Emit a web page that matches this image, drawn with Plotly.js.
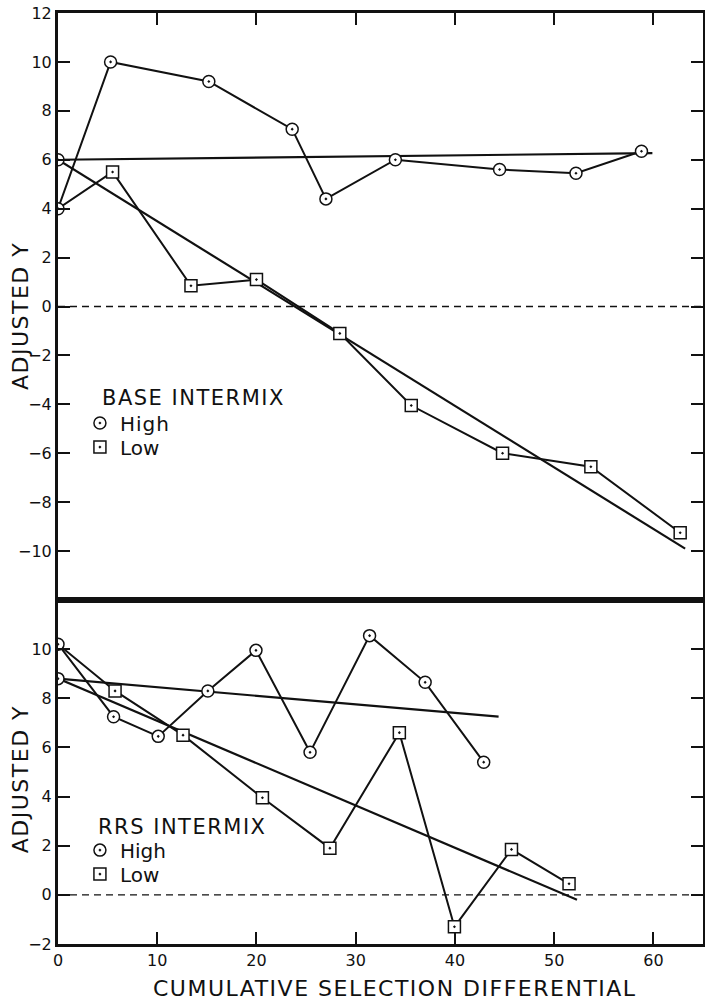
<!DOCTYPE html>
<html>
<head>
<meta charset="utf-8">
<script src="https://cdn.plot.ly/plotly-3.0.1.min.js"></script>
<style>
  html, body { margin: 0; padding: 0; background: #fff; }
  #chart { width: 705px; height: 1003px; }
  .annotation-text { letter-spacing: 1.5px; }
  .legendtext { letter-spacing: 1px; }
</style>
</head>
<body>
<div id="chart"></div>
<script>
// ---------- DATA ----------
// Top panel: BASE INTERMIX
const baseHighX = [0, 5.3, 15.2, 23.6, 27.0, 34.0, 44.5, 52.2, 58.8];
const baseHighY = [4.0, 10.0, 9.2, 7.25, 4.4, 6.0, 5.6, 5.45, 6.35];
const baseLowX  = [0, 5.5, 13.4, 20.0, 28.4, 35.6, 44.8, 53.7, 62.7];
const baseLowY  = [4.0, 5.5, 0.85, 1.1, -1.1, -4.05, -6.0, -6.55, -9.25];
const baseFitHighX = [0, 59.9];
const baseFitHighY = [6.0, 6.27];
const baseFitLowX  = [0, 63.2];
const baseFitLowY  = [6.0, -9.9];
const baseInterceptX = [0];
const baseInterceptY = [6.0];

// Bottom panel: RRS INTERMIX
const rrsHighX = [0, 5.6, 10.1, 15.1, 19.95, 25.4, 31.4, 37.0, 42.9];
const rrsHighY = [10.2, 7.25, 6.45, 8.3, 9.95, 5.8, 10.55, 8.65, 5.4];
const rrsLowX  = [0, 5.75, 12.6, 20.6, 27.4, 34.4, 39.95, 45.7, 51.5];
const rrsLowY  = [10.2, 8.3, 6.5, 3.95, 1.9, 6.6, -1.3, 1.85, 0.45];
const rrsFitHighX = [0, 44.4];
const rrsFitHighY = [8.8, 7.25];
const rrsFitLowX  = [0, 52.3];
const rrsFitLowY  = [8.8, -0.2];
const rrsInterceptX = [0];
const rrsInterceptY = [8.8];

const zeroX = [0, 65];
const zeroY = [0, 0];

const xTicks = [0, 10, 20, 30, 40, 50, 60];
const xTicksTop = [10, 20, 30, 40, 50, 60];
const yTicksTop = [-10, -8, -6, -4, -2, 0, 2, 4, 6, 8, 10, 12];
const yTicksBottom = [-2, 0, 2, 4, 6, 8, 10];

const seriesNames = ['High', 'Low'];
const panelTitles = ['BASE INTERMIX', 'RRS INTERMIX'];
const xTitle = 'CUMULATIVE SELECTION DIFFERENTIAL';
const yTitle = 'ADJUSTED Y';

// ---------- STYLE ----------
const INK = '#111111';
const FONT = 'DejaVu Sans, sans-serif';
const circleMarker = {symbol: 'circle-dot', size: 12, color: '#ffffff', line: {color: INK, width: 1.5}};
const squareMarker = {symbol: 'square-dot', size: 12, color: '#ffffff', line: {color: INK, width: 1.5}};
const dataLine = {color: INK, width: 2};
const fitLine = {color: INK, width: 2.2};
const dashLine = {color: INK, width: 1.4, dash: '7px,5px'};

function lineTrace(x, y, xa, ya, line) {
  return {x: x, y: y, xaxis: xa, yaxis: ya, mode: 'lines', line: line,
          showlegend: false, hoverinfo: 'skip'};
}
function markerTrace(x, y, xa, ya, marker, name, legend, show) {
  return {x: x, y: y, xaxis: xa, yaxis: ya, mode: 'markers', marker: marker,
          name: name, legend: legend, showlegend: show};
}

const traces = [
  // top panel lines
  lineTrace(zeroX, zeroY, 'x2', 'y2', dashLine),
  lineTrace(baseFitHighX, baseFitHighY, 'x2', 'y2', fitLine),
  lineTrace(baseFitLowX, baseFitLowY, 'x2', 'y2', fitLine),
  lineTrace(baseHighX, baseHighY, 'x2', 'y2', dataLine),
  lineTrace(baseLowX, baseLowY, 'x2', 'y2', dataLine),
  // bottom panel lines
  lineTrace(zeroX, zeroY, 'x', 'y', dashLine),
  lineTrace(rrsFitHighX, rrsFitHighY, 'x', 'y', fitLine),
  lineTrace(rrsFitLowX, rrsFitLowY, 'x', 'y', fitLine),
  lineTrace(rrsHighX, rrsHighY, 'x', 'y', dataLine),
  lineTrace(rrsLowX, rrsLowY, 'x', 'y', dataLine),
  // markers (Low first point coincides with High first point, drawn as circle)
  markerTrace(baseInterceptX, baseInterceptY, 'x2', 'y2', circleMarker, 'intercept', 'legend', false),
  markerTrace(baseLowX.slice(1), baseLowY.slice(1), 'x2', 'y2', squareMarker, seriesNames[1], 'legend2', true),
  markerTrace(baseHighX, baseHighY, 'x2', 'y2', circleMarker, seriesNames[0], 'legend', true),
  markerTrace(rrsInterceptX, rrsInterceptY, 'x', 'y', circleMarker, 'intercept', 'legend3', false),
  markerTrace(rrsLowX.slice(1), rrsLowY.slice(1), 'x', 'y', squareMarker, seriesNames[1], 'legend4', true),
  markerTrace(rrsHighX, rrsHighY, 'x', 'y', circleMarker, seriesNames[0], 'legend3', true)
];

const SPLIT = 0.3695;
const tickFont = {family: FONT, size: 16, color: INK};
const axisCommon = {
  showgrid: false, zeroline: false, showline: true, linecolor: INK, linewidth: 3,
  ticks: 'inside', ticklen: 12, tickwidth: 2, tickcolor: INK, tickfont: tickFont
};

const legendCommon = {
  bgcolor: 'rgba(0,0,0,0)', borderwidth: 0, font: {family: FONT, size: 20, color: INK},
  xanchor: 'left', yanchor: 'top', tracegroupgap: 0, itemclick: false, itemdoubleclick: false
};

const layout = {
  width: 705, height: 1003,
  margin: {l: 58, r: 2, t: 13, b: 59},
  paper_bgcolor: '#ffffff', plot_bgcolor: '#ffffff',
  font: {family: FONT, color: INK},
  xaxis: Object.assign({}, axisCommon, {
    domain: [0, 1], range: [0, 65], anchor: 'y', tickmode: 'array', tickvals: xTicks,
    mirror: true
  }),
  yaxis: Object.assign({}, axisCommon, {
    domain: [0, SPLIT], range: [-2, 12], anchor: 'x', tickmode: 'array', tickvals: yTicksBottom,
    mirror: 'ticks'
  }),
  xaxis2: Object.assign({}, axisCommon, {
    domain: [0, 1], range: [0, 65], anchor: 'y2', side: 'top', tickmode: 'array', tickvals: xTicksTop,
    showticklabels: false, mirror: true
  }),
  yaxis2: Object.assign({}, axisCommon, {
    domain: [SPLIT, 1], range: [-12, 12], anchor: 'x2', tickmode: 'array', tickvals: yTicksTop,
    mirror: 'ticks'
  }),
  legend:  Object.assign({}, legendCommon, {x: 0.034, y: 0.5805}),
  legend2: Object.assign({}, legendCommon, {x: 0.034, y: 0.5547}),
  legend3: Object.assign({}, legendCommon, {x: 0.034, y: 0.1218}),
  legend4: Object.assign({}, legendCommon, {x: 0.034, y: 0.0960}),
  annotations: [
    {text: panelTitles[0], xref: 'paper', yref: 'paper', x: 0.065, y: 0.5865, xanchor: 'left', yanchor: 'middle',
     showarrow: false, font: {family: FONT, size: 21, color: INK}},
    {text: panelTitles[1], xref: 'paper', yref: 'paper', x: 0.059, y: 0.1257, xanchor: 'left', yanchor: 'middle',
     showarrow: false, font: {family: FONT, size: 21, color: INK}},
    {text: xTitle, xref: 'paper', yref: 'paper', x: 0.5225, y: -0.0473, xanchor: 'center', yanchor: 'middle',
     showarrow: false, font: {family: FONT, size: 22, color: INK}},
    {text: yTitle, xref: 'paper', yref: 'paper', x: -0.0589, y: 0.6745, xanchor: 'center', yanchor: 'middle',
     textangle: -90, showarrow: false, font: {family: FONT, size: 22, color: INK}},
    {text: yTitle, xref: 'paper', yref: 'paper', x: -0.0589, y: 0.177, xanchor: 'center', yanchor: 'middle',
     textangle: -90, showarrow: false, font: {family: FONT, size: 22, color: INK}}
  ]
};

Plotly.newPlot('chart', traces, layout, {staticPlot: true, displayModeBar: false});
</script>
</body>
</html>
